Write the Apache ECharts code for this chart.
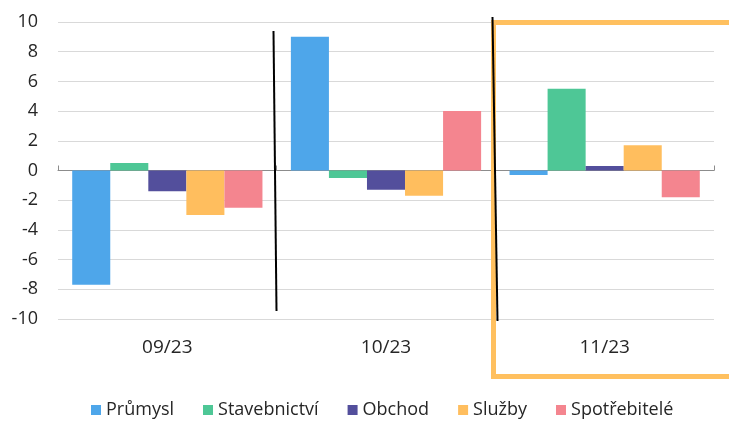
<!DOCTYPE html>
<html><head><meta charset="utf-8">
<script src="https://cdn.jsdelivr.net/npm/echarts@6/dist/echarts.min.js"></script>
<style>html,body{margin:0;padding:0;background:#fff}#c{width:729px;height:421px}</style>
</head><body><div id="c"></div>
<script>
const categories = ['09/23', '10/23', '11/23'];
const seriesNames = ['Průmysl', 'Stavebnictví', 'Obchod', 'Služby', 'Spotřebitelé'];
const prumysl = [-7.7, 9.0, -0.3];
const stavebnictvi = [0.5, -0.5, 5.5];
const obchod = [-1.4, -1.3, 0.3];
const sluzby = [-3.0, -1.7, 1.7];
const spotrebitele = [-2.5, 4.0, -1.8];
const yTicks = [-10, -8, -6, -4, -2, 0, 2, 4, 6, 8, 10];
const colors = ['#4EA6EA', '#4EC796', '#534F9C', '#FFBE5E', '#F4858F'];
const values = [prumysl, stavebnictvi, obchod, sluzby, spotrebitele];

const chart = echarts.init(document.getElementById('c'));
const font = 'Open Sans';
chart.setOption({
  animation: false,
  textStyle: { fontFamily: font },
  grid: { left: 58, right: 15, top: 22, bottom: 102 },
  legend: {
    top: 401, left: 91, padding: 0,
    itemWidth: 10, itemHeight: 10, itemGap: 29,
    icon: 'rect',
    textStyle: { fontSize: 18, color: '#262626', fontFamily: font },
    data: seriesNames
  },
  xAxis: [{
    type: 'category', data: categories,
    axisLine: { show: false, onZero: false },
    axisTick: { show: false },
    axisLabel: { fontSize: 19, color: '#262626', margin: 19, fontFamily: font }
  }, {
    type: 'category', data: categories,
    axisLine: { show: true, onZero: true, lineStyle: { color: '#8c8c8c', width: 1 } },
    axisTick: { show: true, length: 5, lineStyle: { color: '#8c8c8c' } },
    axisLabel: { show: false }
  }],
  yAxis: {
    type: 'value', min: yTicks[0], max: yTicks[yTicks.length - 1], interval: 2,
    axisLine: { show: false }, axisTick: { show: false },
    axisLabel: { fontSize: 18, color: '#262626', margin: 20, fontFamily: font },
    splitLine: { lineStyle: { color: '#d9d9d9', width: 1 } }
  },
  series: seriesNames.map((n, i) => ({
    name: n, type: 'bar', data: values[i], xAxisIndex: 0,
    barGap: '0%', barCategoryGap: '13%',
    itemStyle: { color: colors[i] }
  })),
  graphic: [
    { type: 'line', shape: { x1: 273.5, y1: 31, x2: 276.5, y2: 311 }, style: { stroke: '#000', lineWidth: 2 }, z: 100 },
    { type: 'line', shape: { x1: 492.5, y1: 17, x2: 497.5, y2: 321 }, style: { stroke: '#000', lineWidth: 2 }, z: 100 },
    { type: 'rect', shape: { x: 493.5, y: 22.5, width: 250, height: 354 }, style: { fill: 'none', stroke: '#FFC05F', lineWidth: 5 }, z: 99 }
  ]
});
</script></body></html>
